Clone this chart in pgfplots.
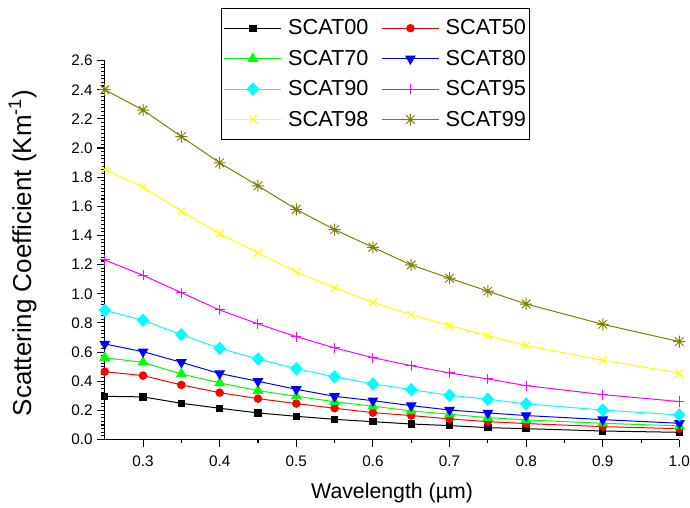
\documentclass[border=0pt]{standalone}
\usepackage{fontspec}
\setmainfont{Liberation Sans}
\usepackage{pgfplots}
\pgfplotsset{compat=1.18}
\definecolor{scatolive}{RGB}{128,128,0}
\definecolor{scatgreen}{RGB}{0,255,0}
\definecolor{scatyellow}{RGB}{255,255,0}
\definecolor{scatcyan}{RGB}{0,255,255}
\definecolor{scatmagenta}{RGB}{255,0,255}

% eight-armed star like the Origin marker
\pgfdeclareplotmark{star8}{%
  \pgfpathmoveto{\pgfqpoint{-\pgfplotmarksize}{0pt}}\pgfpathlineto{\pgfqpoint{\pgfplotmarksize}{0pt}}%
  \pgfpathmoveto{\pgfqpoint{0pt}{-\pgfplotmarksize}}\pgfpathlineto{\pgfqpoint{0pt}{\pgfplotmarksize}}%
  \pgfpathmoveto{\pgfqpoint{-.72\pgfplotmarksize}{-.72\pgfplotmarksize}}\pgfpathlineto{\pgfqpoint{.72\pgfplotmarksize}{.72\pgfplotmarksize}}%
  \pgfpathmoveto{\pgfqpoint{-.72\pgfplotmarksize}{.72\pgfplotmarksize}}\pgfpathlineto{\pgfqpoint{.72\pgfplotmarksize}{-.72\pgfplotmarksize}}%
  \pgfusepathqstroke}

\begin{document}
\begin{tikzpicture}
\begin{axis}[
  name=ax,
  scale only axis,
  width=432pt, height=285pt,
  xmin=0.25, xmax=1.0, ymin=0, ymax=2.6,
  axis x line*=bottom, axis y line*=left,
  axis line style={line width=1pt},
  xtick={0.3,0.4,0.5,0.6,0.7,0.8,0.9,1.0}, minor x tick num=1,
  ytick={0,0.2,0.4,0.6,0.8,1.0,1.2,1.4,1.6,1.8,2.0,2.2,2.4,2.6}, minor y tick num=7,
  tick align=outside,
  major tick length=5.5pt, minor tick length=2.8pt,
  every tick/.style={black, line width=0.8pt},
  /pgf/number format/.cd, fixed, fixed zerofill, precision=1, assume math mode=true,
  /pgfplots/.cd,
  tick label style={font=\fontsize{11.5}{13}\selectfont},
  xticklabel style={yshift=-3.5pt},
  xlabel={Wavelength (µm)},
  ylabel={Scattering Coefficient (Km\textsuperscript{-1})},
  xlabel style={font=\fontsize{16}{19}\selectfont, at={(axis description cs:0.5,-0.156)}, anchor=base},
  ylabel style={font=\fontsize{19.5}{23}\selectfont, at={(axis description cs:-0.128,0.4926)}, anchor=base},
  every axis plot/.append style={line width=0.75pt},
  legend columns=2,
  legend cell align=left,
  legend image code/.code={%
    \draw[mark repeat=2,mark phase=2] plot coordinates {(0pt,0pt) (21.4pt,0pt) (42.8pt,0pt)};},
  legend style={at={(axis description cs:0.203,1.139)}, anchor=north west,
    font=\fontsize{16.3}{19}\selectfont, draw=black, line width=0.8pt,
    inner xsep=1.5pt, inner ysep=6.5pt, row sep=6pt,
    nodes={font=\fontsize{16.3}{19}\selectfont, inner xsep=0.75pt, inner ysep=2pt},
    /tikz/every odd column/.append style={column sep=4pt},
    /tikz/every even column/.append style={column sep=9pt}},
]
\addplot[black, mark=square*, mark size=2.4pt] coordinates {
(0.25,0.297) (0.3,0.293) (0.35,0.249) (0.4,0.215) (0.45,0.183) (0.5,0.160) (0.55,0.139)
(0.6,0.123) (0.65,0.107) (0.7,0.096) (0.75,0.082) (0.8,0.075) (0.9,0.059) (1.0,0.050)};
\addlegendentry{SCAT00}
\addplot[red, mark=*, mark size=2.8pt] coordinates {
(0.25,0.466) (0.3,0.439) (0.35,0.375) (0.4,0.322) (0.45,0.281) (0.5,0.247) (0.55,0.215)
(0.6,0.185) (0.65,0.165) (0.7,0.142) (0.75,0.123) (0.8,0.110) (0.9,0.089) (1.0,0.075)};
\addlegendentry{SCAT50}
\addplot[scatgreen, mark=triangle*, mark size=4pt] coordinates {
(0.25,0.562) (0.3,0.530) (0.35,0.450) (0.4,0.389) (0.45,0.336) (0.5,0.297) (0.55,0.260)
(0.6,0.229) (0.65,0.197) (0.7,0.174) (0.75,0.151) (0.8,0.135) (0.9,0.112) (1.0,0.094)};
\addlegendentry{SCAT70}
\addplot[blue, mark=triangle*, mark size=4pt, mark options={rotate=180}] coordinates {
(0.25,0.656) (0.3,0.603) (0.35,0.530) (0.4,0.453) (0.45,0.400) (0.5,0.345) (0.55,0.297)
(0.6,0.267) (0.65,0.233) (0.7,0.203) (0.75,0.183) (0.8,0.165) (0.9,0.137) (1.0,0.112)};
\addlegendentry{SCAT80}
\addplot[scatcyan, mark=diamond*, mark size=4.5pt, mark options={xscale=1.25}] coordinates {
(0.25,0.887) (0.3,0.818) (0.35,0.720) (0.4,0.626) (0.45,0.553) (0.5,0.487) (0.55,0.430)
(0.6,0.382) (0.65,0.343) (0.7,0.304) (0.75,0.277) (0.8,0.245) (0.9,0.203) (1.0,0.169)};
\addlegendentry{SCAT90}
\addplot[scatmagenta, mark=+, mark size=3.8pt] coordinates {
(0.25,1.232) (0.3,1.127) (0.35,1.008) (0.4,0.889) (0.45,0.794) (0.5,0.706) (0.55,0.629)
(0.6,0.562) (0.65,0.507) (0.7,0.457) (0.75,0.416) (0.8,0.370) (0.9,0.309) (1.0,0.261)};
\addlegendentry{SCAT95}
\addplot[scatyellow, mark=x, mark size=4.3pt] coordinates {
(0.25,1.852) (0.3,1.731) (0.35,1.567) (0.4,1.412) (0.45,1.282) (0.5,1.150) (0.55,1.041)
(0.6,0.942) (0.65,0.857) (0.7,0.782) (0.75,0.713) (0.8,0.645) (0.9,0.544) (1.0,0.457)};
\addlegendentry{SCAT98}
\addplot[scatolive, mark=star8, mark size=4.5pt] coordinates {
(0.25,2.400) (0.3,2.260) (0.35,2.078) (0.4,1.898) (0.45,1.741) (0.5,1.579) (0.55,1.440)
(0.6,1.319) (0.65,1.198) (0.7,1.107) (0.75,1.018) (0.8,0.930) (0.9,0.791) (1.0,0.672)};
\addlegendentry{SCAT99}
\end{axis}
\pgfresetboundingbox
\path[use as bounding box] ([shift={(-78.75pt,-51.2pt)}]ax.south west) rectangle ([shift={(8pt,45.5pt)}]ax.north east);
\end{tikzpicture}
\end{document}
